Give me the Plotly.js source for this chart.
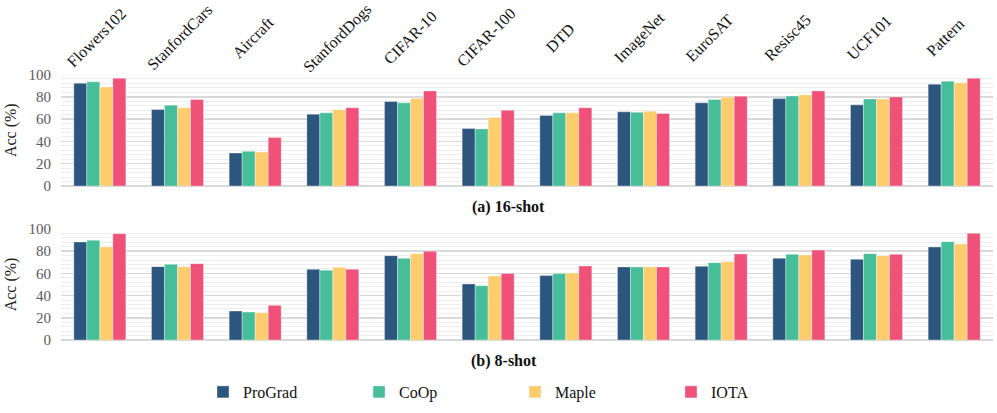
<!DOCTYPE html>
<html>
<head>
<meta charset="utf-8">
<script src="https://cdn.plot.ly/plotly-3.0.1.min.js"></script>
<style>html,body{margin:0;padding:0;background:#fff;}#chart{width:997px;height:413px;}</style>
</head>
<body>
<div id="chart"></div>
<script>
const categories = ["Flowers102","StanfordCars","Aircraft","StanfordDogs","CIFAR-10","CIFAR-100","DTD","ImageNet","EuroSAT","Resisc45","UCF101","Pattern"];
const methods = ["ProGrad","CoOp","Maple","IOTA"];
const colors = ["#2c567d","#46be9a","#fdcd6d","#ef5179"];

// 16-shot accuracy (%)
const prograd16 = [92.2,68.6,29.6,64.4,75.7,51.5,63.2,66.5,74.6,78.4,72.8,91.3];
const coop16    = [93.4,72.5,31.1,65.6,74.6,51.2,65.6,66.2,77.5,80.8,78.1,94.0];
const maple16   = [88.9,70.1,30.5,68.3,78.4,61.4,65.6,67.1,79.6,81.7,78.1,92.5];
const iota16    = [96.7,77.5,43.4,70.1,85.3,68.0,70.1,65.0,80.5,85.3,79.9,96.7];

// 8-shot accuracy (%)
const prograd8 = [88.3,66.1,26.1,63.7,76.0,50.5,58.0,65.8,66.4,73.6,72.7,83.8];
const coop8    = [89.8,68.2,25.2,62.8,73.6,48.9,59.8,65.8,69.7,77.2,77.8,88.6];
const maple8   = [83.8,66.1,24.6,65.5,77.8,57.7,60.4,65.8,70.6,76.6,76.0,86.5];
const iota8    = [95.8,68.8,31.2,63.7,79.9,59.8,66.7,65.8,77.5,81.1,77.2,96.1];

const yTickVals = [0,20,40,60,80,100];
const shot16 = [prograd16, coop16, maple16, iota16];
const shot8 = [prograd8, coop8, maple8, iota8];

// styling: horizontal nudge (px) of each rotated category label
const labelNudge = [-3, 2, -2, 5, 0, -2, -5, -4, -11, -11, -7, -9];

const FONT = "Liberation Serif";
const W = 997, H = 413;
const py = p => 1 - p / H;

const traces = [];
methods.forEach((m, i) => {
  traces.push({type:'bar', name:m, x:categories, y:shot16[i], xaxis:'x', yaxis:'y',
    marker:{color:colors[i], line:{color:'rgba(255,255,255,0.35)', width:1}},
    legendgroup:m, showlegend:true, hoverinfo:'x+y+name'});
});
methods.forEach((m, i) => {
  traces.push({type:'bar', name:m, x:categories, y:shot8[i], xaxis:'x2', yaxis:'y2',
    marker:{color:colors[i], line:{color:'rgba(255,255,255,0.35)', width:1}},
    legendgroup:m, showlegend:false, hoverinfo:'x+y+name'});
});

function yax(domain) {
  return {
    domain: domain, range:[0,100], tickvals:yTickVals, ticktext:yTickVals.map(String),
    showgrid:true, gridcolor:'#d9d9d9', gridwidth:1.5,
    minor:{dtick:4, showgrid:true, gridcolor:'#eeeeee', gridwidth:1},
    zeroline:true, zerolinecolor:'#d9d9d9', zerolinewidth:2,
    showline:false, ticks:'', ticklabelstandoff:9,
    tickfont:{family:FONT, size:15, color:'#595959'},
    title:{text:'Acc (%)', font:{family:FONT, size:16, color:'#222'}, standoff:7},
    fixedrange:true
  };
}
function xax(anchor) {
  return {anchor:anchor, domain:[0,1], showticklabels:false, ticks:'', showgrid:false,
    zeroline:false, showline:false, type:'category', categoryorder:'array', categoryarray:categories};
}

const annotations = categories.map((c, i) => ({
  xref:'x', yref:'paper', x:c, y:py(38), xanchor:'center', yanchor:'middle',
  text:c, textangle:-45, showarrow:false, xshift:labelNudge[i],
  font:{family:FONT, size:16, color:'#111'}
}));
annotations.push({xref:'paper', yref:'paper', x:(508-61)/932, y:py(206.7), xanchor:'center', yanchor:'middle',
  text:'<b>(a) 16-shot</b>', showarrow:false, font:{family:FONT, size:16, color:'#111'}});
annotations.push({xref:'paper', yref:'paper', x:(504-61)/932, y:py(360.7), xanchor:'center', yanchor:'middle',
  text:'<b>(b) 8-shot</b>', showarrow:false, font:{family:FONT, size:16, color:'#111'}});

const layout = {
  width:W, height:H,
  margin:{l:61, r:4, t:0, b:0},
  paper_bgcolor:'#fff', plot_bgcolor:'#fff',
  barmode:'group', bargap:0.33, bargroupgap:0,
  font:{family:FONT, color:'#111'},
  xaxis:xax('y'), yaxis:yax([py(186), py(74.5)]),
  xaxis2:xax('y2'), yaxis2:yax([py(340), py(229)]),
  showlegend:true,
  legend:{orientation:'h', x:(203-61)/932, xanchor:'left', y:py(392), yanchor:'middle',
    font:{family:FONT, size:16, color:'#111'}, entrywidth:111, entrywidthmode:'pixels',
    traceorder:'normal', bgcolor:'rgba(0,0,0,0)'},
  annotations:annotations
};

Plotly.newPlot('chart', traces, layout, {displayModeBar:false, staticPlot:true});
</script>
</body>
</html>
